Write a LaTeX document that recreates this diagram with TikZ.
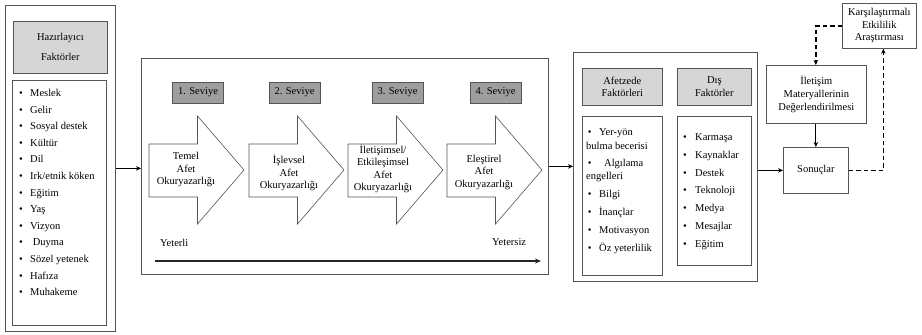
\documentclass[tikz,border=0pt]{standalone}
\usepackage{fontspec}
\setmainfont{Liberation Serif}
\usetikzlibrary{arrows.meta}
\definecolor{edgegray}{RGB}{85,85,85}
\definecolor{hdrgray}{RGB}{214,214,214}
\definecolor{lvlgray}{RGB}{158,158,158}
\begin{document}
\begin{tikzpicture}[x=1pt,y=-1pt,
  font=\fontsize{10.5}{12.5}\selectfont,
  frame/.style={draw=edgegray, line width=0.7pt, anchor=north west, inner sep=0pt},
  hdr/.style={frame, fill=hdrgray, align=center},
  lvl/.style={draw=edgegray, line width=0.7pt, fill=lvlgray, minimum width=51pt, minimum height=21pt, inner sep=0pt},
  item/.style={anchor=west, inner sep=0pt, text height=7pt, text depth=2pt},
  bigarrow/.style={draw=edgegray, line width=0.6pt, fill=white},
  arrowtext/.style={align=center, inner sep=0pt, font=\fontsize{10.5}{12.5}\selectfont},
  conn/.style={-{Stealth[length=5pt,width=4.5pt]}, line width=0.9pt, black},
  dashconn/.style={conn, line width=1.3pt, dash pattern=on 4.5pt off 3pt},
  bul/.style={}
]
\useasboundingbox (0,0) rectangle (922,335);

% ---------- left column: predisposing factors ----------
\node[frame, minimum width=110pt, minimum height=326pt] (left) at (5,5) {};
\node[hdr, minimum width=94pt, minimum height=52pt] (lefthdr) at (13,21) {};
\node[align=center, font=\fontsize{10.5}{20}\selectfont] (lefthdrtxt) at (lefthdr.center) {Hazırlayıcı\\Faktörler};
\node[frame, minimum width=94pt, minimum height=245pt] (leftlist) at (12,80) {};
\foreach \t [count=\i] in {Meslek, Gelir, Sosyal destek, Kültür, Dil, Irk/etnik köken, Eğitim, Yaş, Vizyon, {\ Duyma}, Sözel yetenek, Hafıza, Muhakeme}
  \node[item] (hz\i) at (19, {94+(\i-1)*16.6}) {\makebox[11pt][l]{•}\t};

% ---------- middle panel: literacy levels ----------
\node[frame, minimum width=407pt, minimum height=216pt] (mid) at (141,58) {};
\node[lvl] (lv1) at (198,92.5) {1. Seviye};
\node[lvl] (lv2) at (294.5,92.5) {2. Seviye};
\node[lvl] (lv3) at (397.5,92.5) {3. Seviye};
\node[lvl] (lv4) at (495.5,92.5) {4. Seviye};

\foreach \x in {149,249,348,447}
  \draw[bigarrow] (\x,144) -- (\x+48.5,144) -- (\x+48.5,116) -- (\x+95,170)
     -- (\x+48.5,224) -- (\x+48.5,197) -- (\x,197) -- cycle;

\node[arrowtext] (ar1) at (186,169.5) {Temel\\Afet\\Okuryazarlığı};
\node[arrowtext] (ar2) at (289,173) {İşlevsel\\Afet\\Okuryazarlığı};
\node[arrowtext] (ar3) at (383,169) {İletişimsel/\\Etkileşimsel\\Afet\\Okuryazarlığı};
\node[arrowtext] (ar4) at (484,172) {Eleştirel\\Afet\\Okuryazarlığı};

\node[anchor=west, inner sep=0pt] (yeterli) at (160,243) {Yeterli};
\node[anchor=west, inner sep=0pt] (yetersiz) at (492,242) {Yetersiz};
\coordinate (scaleL) at (155,261);
\coordinate (scaleR) at (541,261);
\draw[-{Stealth[length=6pt,width=5pt]}, line width=2.2pt, black!85] (scaleL) -- (scaleR);

% ---------- right panel: victim and external factors ----------
\node[frame, minimum width=184pt, minimum height=229pt] (rbox) at (573,52) {};
\node[hdr, minimum width=80pt, minimum height=37pt] (afhdr) at (582,68) {};
\node[align=center] (afhdrtxt) at (afhdr.center) {Afetzede\\Faktörleri};
\node[hdr, minimum width=74pt, minimum height=37pt] (dishdr) at (677,68) {};
\node[align=center] (dishdrtxt) at (dishdr.center) {Dış\\Faktörler};
\node[frame, minimum width=80pt, minimum height=159pt] (aflist) at (582,116) {};
\node[frame, minimum width=74pt, minimum height=149pt] (dislist) at (677,116) {};

\node[item] (af1) at (586,133) {\makebox[13pt][l]{\,•}Yer-yön};
\node[item] (af1b) at (586,147) {bulma becerisi};
\node[item] (af2) at (586,164) {\makebox[18pt][l]{\,•}Algılama};
\node[item] (af2b) at (586,177) {engelleri};
\node[item] (af3) at (586,195) {\makebox[13pt][l]{\,•}Bilgi};
\node[item] (af4) at (586,213) {\makebox[13pt][l]{\,•}İnançlar};
\node[item] (af5) at (586,231) {\makebox[13pt][l]{\,•}Motivasyon};
\node[item] (af6) at (586,249) {\makebox[13pt][l]{\,•}Öz yeterlilik};

\foreach \t [count=\i] in {Karmaşa, Kaynaklar, Destek, Teknoloji, Medya, Mesajlar, Eğitim}
  \node[item] (ds\i) at (683, {138+(\i-1)*17.8}) {\makebox[12pt][l]{•}\t};

% ---------- outcome chain ----------
\node[frame, minimum width=100pt, minimum height=58pt] (ilet) at (766,65) {};
\node[align=center, font=\fontsize{10.5}{13}\selectfont] (ilettxt) at (ilet.center) {İletişim\\Materyallerinin\\Değerlendirilmesi};
\node[frame, minimum width=65pt, minimum height=46pt] (son) at (783,147) {};
\node (sontxt) at (son.center) {Sonuçlar};
\node[frame, minimum width=74pt, minimum height=45pt] (kars) at (842,3) {};
\node[align=center, font=\fontsize{10.5}{12.5}\selectfont] (karstxt) at (kars.center) {Karşılaştırmalı\\Etkililik\\Araştırması};

% ---------- connectors ----------
\draw[conn] (left.east) -- (left.east -| mid.west);
\draw[conn] (mid.east) -- (mid.east -| rbox.west);
\draw[conn] (son.west -| rbox.east) -- (son.west);
\draw[conn] (ilet.south -| son.north) -- (son.north);
\draw[dashconn] (kars.west) -| (ilet.north -| son.north);
\draw[dashconn] (son.east) -| ([xshift=4pt]kars.south);
\end{tikzpicture}
\end{document}
